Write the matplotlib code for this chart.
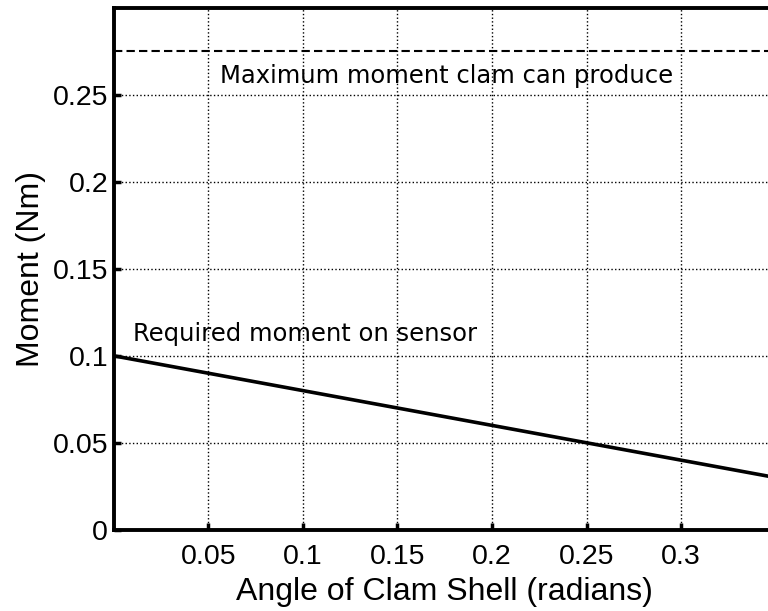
import matplotlib.pyplot as plt
import numpy as np

# data
angle = [0.0, 0.05, 0.10, 0.15, 0.20, 0.25, 0.30, 0.35]
required_moment = [0.100, 0.090, 0.080, 0.070, 0.060, 0.050, 0.040, 0.030]
max_moment = 0.275

xticks = [0.05, 0.1, 0.15, 0.2, 0.25, 0.3]
xticklabels = ['0.05', '0.1', '0.15', '0.2', '0.25', '0.3']
yticks = [0, 0.05, 0.1, 0.15, 0.2, 0.25]
yticklabels = ['0', '0.05', '0.1', '0.15', '0.2', '0.25']

plt.rcParams['font.family'] = ['Liberation Sans', 'DejaVu Sans']

fig = plt.figure(figsize=(7.68, 6.11), dpi=100)
ax = fig.add_axes([0.148, 0.133, 0.862, 0.854])

ax.plot(angle, required_moment, color='k', lw=2.6)
ax.axhline(max_moment, color='k', lw=1.5, ls=(0, (4, 2)))

ax.text(0.056, 0.261, 'Maximum moment clam can produce', family='DejaVu Sans',
        fontsize=17.5, va='center', ha='left')
ax.text(0.010, 0.1125, 'Required moment on sensor', family='DejaVu Sans',
        fontsize=17.5, va='center', ha='left')

ax.set_xlim(0, 0.35)
ax.set_ylim(0, 0.3)
ax.set_xticks(xticks)
ax.set_xticklabels(xticklabels)
ax.set_yticks(yticks)
ax.set_yticklabels(yticklabels)
ax.tick_params(direction='in', length=5, width=2.5, labelsize=20.5, pad=4)
ax.tick_params(axis='x', pad=10)
ax.grid(True, color='k', ls=':', lw=1.0)

for s in ax.spines.values():
    s.set_linewidth(2.8)

ax.set_xlabel('Angle of Clam Shell (radians)', fontsize=23, labelpad=5)
ax.set_ylabel('Moment (Nm)', fontsize=23, labelpad=5)

fig.savefig('out.png', dpi=100)
